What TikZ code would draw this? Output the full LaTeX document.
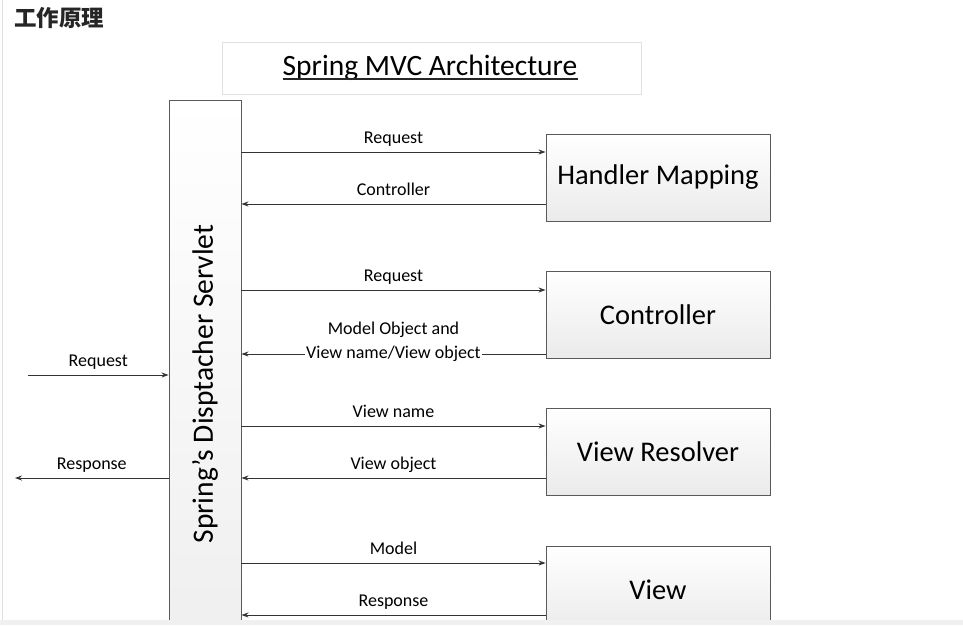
\documentclass[tikz,border=0pt]{standalone}
\usepackage{fontspec}
\setmainfont{Carlito}
\newfontfamily\cjk{Noto Sans CJK SC}
\usetikzlibrary{arrows.meta}
\definecolor{ink}{HTML}{333333}
\definecolor{edge}{HTML}{5A5A5A}
\tikzset{
  compbox/.style={draw=edge, line width=0.9pt, top color=white, bottom color=black!8,
    minimum width=224pt, minimum height=87pt, inner sep=0pt,
    font=\fontsize{28.5}{30}\selectfont, text=black},
  flow/.style={draw=ink, line width=0.9pt, -{Stealth[length=7pt,width=5pt]}},
  lbl/.style={font=\fontsize{18}{20}\selectfont, text=black, inner sep=1pt,
    text height=12.5pt, text depth=4pt},
}
\begin{document}
\begin{tikzpicture}[x=1pt,y=-1pt]
  % page
  \fill[white] (0,0) rectangle (963,625);
  \useasboundingbox (0,0) rectangle (963,625);
  \draw[black!12, line width=1pt] (2.5,0) -- (2.5,625);

  % heading
  \node[anchor=west, inner sep=0pt, text=black!85, font=\cjk\bfseries\fontsize{22.5}{25}\selectfont]
    (heading) at (14,18) {工作原理};

  % diagram title
  \node[draw=black!12, fill=white, minimum width=419pt, minimum height=52pt,
        font=\fontsize{29.5}{31}\selectfont] (title) at (431.5,68) {};
  \node[inner sep=0pt, font=\fontsize{29.5}{31}\selectfont, anchor=base] (titletext) at (430,75) {Spring MVC Architecture};
  \draw[black!85, line width=1.8pt] ([yshift=-4pt]titletext.base west) -- ([yshift=-4pt]titletext.base east);

  \begin{scope}
    \clip (0,0) rectangle (963,620);

    % dispatcher servlet bar
    \node[draw=edge, line width=0.9pt, top color=white, bottom color=black!7,
          minimum width=72pt, minimum height=600pt, inner sep=0pt] (servlet) at (205,400) {};
    \node[rotate=90, font=\fontsize{29.5}{31}\selectfont, inner sep=0pt] (servletlabel) at (205,384)
      {Spring’s Disptacher Servlet};

    % components
    \node[compbox] (hm)   at (658,177.5) {Handler Mapping};
    \node[compbox] (ctrl) at (658,314.5) {Controller};
    \node[compbox] (vr)   at (658,451.5) {View Resolver};
    \node[compbox] (view) at (658,589.5) {View};

    % attachment heights on the component boxes
    \path ([yshift=25.5pt]hm.west)   coordinate (hmIn)   ([yshift=-26.5pt]hm.west)   coordinate (hmOut)
          ([yshift=24.5pt]ctrl.west) coordinate (ctIn)   ([yshift=-39.5pt]ctrl.west) coordinate (ctOut)
          ([yshift=25.5pt]vr.west)   coordinate (vrIn)   ([yshift=-26.5pt]vr.west)   coordinate (vrOut)
          ([yshift=26.5pt]view.west) coordinate (vwIn)   ([yshift=-25.5pt]view.west) coordinate (vwOut);

    \draw[flow] (hmIn -| servlet.east) -- node[lbl, midway, above=3pt] {Request} (hmIn);
    \draw[flow] (hmOut) -- node[lbl, midway, above=3pt] {Controller} (hmOut -| servlet.east);

    \draw[flow] (ctIn -| servlet.east) -- node[lbl, midway, above=3pt] {Request} (ctIn);
    \draw[flow] (ctOut) -- node[lbl, midway, fill=white] {View name/View object}
      node[lbl, midway, yshift=24pt] {Model Object and} (ctOut -| servlet.east);

    \draw[flow] (vrIn -| servlet.east) -- node[lbl, midway, above=3pt] {View name} (vrIn);
    \draw[flow] (vrOut) -- node[lbl, midway, above=3pt] {View object} (vrOut -| servlet.east);

    \draw[flow] (vwIn -| servlet.east) -- node[lbl, midway, above=3pt] {Model} (vwIn);
    \draw[flow] (vwOut) -- node[lbl, midway, above=3pt] {Response} (vwOut -| servlet.east);

    % client side
    \coordinate (client) at (28,375);
    \coordinate (clientback) at (15,478);
    \draw[flow] (client) -- node[lbl, midway, above=3pt] {Request} (client -| servlet.west);
    \draw[flow] (clientback -| servlet.west) -- node[lbl, midway, above=3pt] {Response} (clientback);
  \end{scope}

  % lower edge strip
  \fill[black!6] (0,620) rectangle (963,625);
\end{tikzpicture}
\end{document}
